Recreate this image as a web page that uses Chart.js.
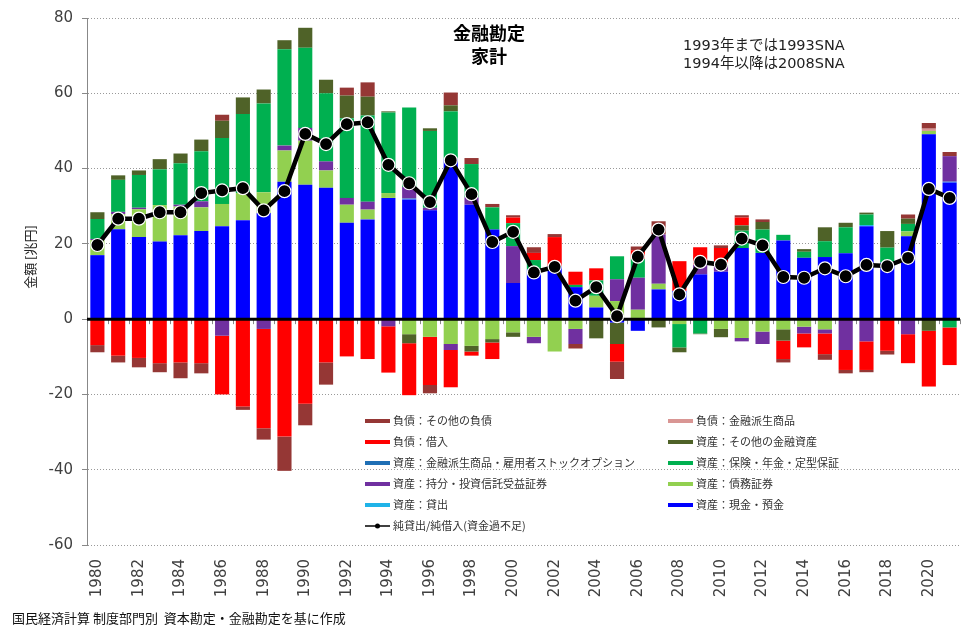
<!DOCTYPE html>
<html>
<head>
<meta charset="utf-8">
<script src="https://cdn.jsdelivr.net/npm/chart.js@4.4.1/dist/chart.umd.min.js"></script>
<style>
  html, body { margin: 0; padding: 0; background: #fff; }
</style>
</head>
<body>
<canvas id="chart" width="977" height="639"></canvas>
<script>
// 金融勘定（家計） 1980-2021, 兆円
const years = ['1980','1981','1982','1983','1984','1985','1986','1987','1988','1989',
  '1990','1991','1992','1993','1994','1995','1996','1997','1998','1999',
  '2000','2001','2002','2003','2004','2005','2006','2007','2008','2009',
  '2010','2011','2012','2013','2014','2015','2016','2017','2018','2019',
  '2020','2021'];

const cash = [17.0,23.9,21.8,20.6,22.3,23.4,24.7,26.3,28.2,36.5,
  35.7,34.9,25.6,26.5,32.2,31.8,28.9,42.6,30.4,23.8,
  9.6,13.2,14.1,8.5,3.1,-0.9,-3.1,7.9,7.5,11.9,
  12.6,18.9,17.6,20.9,16.3,16.5,17.5,24.7,15.0,22.0,
  49.1,36.3];
const loans = [0,0,0,0,0,0,0,0,0,0,
  0,0,0,0,0,0.2,0,0,0,0,
  0,0,0,0,0,0,0,0,0,0,
  0,0,0,0,0,0,0,0.3,0,0,
  0,0.2];
const debtSec = [4.0,4.0,7.4,9.7,7.6,6.3,5.9,7.2,5.5,8.3,
  11.7,4.6,4.8,2.6,1.3,-4.0,-4.7,-6.6,-7.1,-5.3,
  -3.5,-4.7,-8.6,-2.6,3.1,4.8,2.5,1.5,-1.3,0,
  -2.6,-5.0,-3.3,-2.7,-2.0,-2.7,0,0,0,1.3,
  0.9,0];
const equity = [0.3,0.6,0.4,0,0.5,1.6,-4.4,0,-2.6,1.3,
  3.4,2.4,1.8,2.1,-1.9,3.1,0.7,-1.6,2.0,0,
  9.8,-1.7,0,-4.0,0,5.8,8.5,13.1,0,2.6,
  1.9,-0.9,-3.3,0,-1.8,-1.1,-8.2,-5.9,0,-4.0,
  0,6.8];
const insurance = [5.3,8.5,8.7,9.5,11.0,13.3,17.5,21.0,23.6,25.6,
  21.3,18.1,21.2,22.9,21.4,21.1,20.4,12.6,8.8,5.9,
  6.1,2.5,0,0.6,4.1,6.1,5.0,0,-6.2,-3.8,
  0,4.6,6.2,1.5,1.6,4.2,6.9,2.8,4.0,2.0,
  0,-2.2];
const derivAsset = [0,0,0,0,0,0,0,0,0,0,
  0,0,0,0,0,0,0,0,0,0,
  0,0,0,0,0,0,0,0,0,0,
  0,0,0,0,0,0,0,0,0,0,
  0,0];
const otherAsset = [1.8,1.2,1.2,2.7,2.6,3.1,4.6,4.4,3.7,2.4,
  5.3,3.6,6.0,5.0,0.3,-2.4,0.7,1.6,-1.5,-0.9,
  -1.2,0,0,0,-5.1,-5.7,0,-2.2,-1.3,-0.2,
  -2.2,1.4,2.0,-3.0,0.7,3.7,1.2,0.5,4.4,1.4,
  -3.1,0];
const borrowing = [-6.9,-9.7,-10.3,-11.7,-11.5,-11.7,-15.6,-23.2,-26.4,-31.2,
  -22.5,-11.5,-9.9,-10.6,-12.3,-13.8,-12.8,-9.9,-1.1,-4.4,
  1.5,1.9,7.7,3.5,3.2,-4.7,2.3,0,7.9,4.6,
  4.4,2.1,0,-4.9,-3.7,-5.5,-5.3,-7.6,-8.4,-7.7,
  -14.8,-10.0];
const derivLiab = [0,0,0,0,0,0,0,0,0,0,
  0,0,0,0,0,0,0,0,0,0,
  0,0,0,0,0,0,0,0,0,0,
  0,0,0,0,0,0,0,0,0,0,
  0.6,0];
const otherLiab = [-1.9,-1.8,-2.5,-2.4,-4.2,-2.7,1.6,-0.9,-3.0,-9.1,
  -5.7,-5.9,2.1,3.8,0,0,-2.2,3.4,1.6,0.9,
  0.6,1.5,0.8,-1.2,0,-4.6,1.0,3.5,0,0,
  0.7,0.6,0.7,-0.9,0,-1.5,-0.9,-0.6,-1.0,1.1,
  1.5,1.1];
const netLending = [19.7,26.7,26.7,28.4,28.4,33.5,34.2,34.8,28.9,34.0,
  49.2,46.5,51.8,52.3,41.0,36.1,31.1,42.2,33.2,20.5,
  23.2,12.4,13.9,4.9,8.5,0.8,16.6,23.8,6.6,15.2,
  14.5,21.4,19.6,11.2,11.0,13.5,11.4,14.4,14.1,16.3,
  34.6,32.2];

const yTicks = [-60, -40, -20, 0, 20, 40, 60, 80];
const titleLines = ['金融勘定', '家計'];
const noteLines = ['1993年までは1993SNA', '1994年以降は2008SNA'];
const yTitle = '金額 [兆円]';
const source = '国民経済計算 制度部門別  資本勘定・金融勘定を基に作成';

function bar(label, data, color) {
  return { type: 'bar', label: label, data: data, backgroundColor: color,
    borderWidth: 0, stack: 's', order: 1, barPercentage: 0.68, categoryPercentage: 1.0 };
}

const datasets = [
  { type: 'line', label: '純貸出/純借入(資金過不足)', data: netLending, stack: 'net', order: 0,
    borderColor: '#000', borderWidth: 4.5, pointRadius: 6.5, pointBackgroundColor: '#000',
    pointBorderColor: '#fff', pointBorderWidth: 1.2, tension: 0 },
  bar('資産：現金・預金', cash, '#0000FF'),
  bar('資産：貸出', loans, '#1FB3E8'),
  bar('資産：債務証券', debtSec, '#92D050'),
  bar('資産：持分・投資信託受益証券', equity, '#7030A0'),
  bar('資産：保険・年金・定型保証', insurance, '#00B050'),
  bar('資産：金融派生商品・雇用者ストックオプション', derivAsset, '#1F6FB5'),
  bar('資産：その他の金融資産', otherAsset, '#4F6228'),
  bar('負債：借入', borrowing, '#FF0000'),
  bar('負債：金融派生商品', derivLiab, '#D99694'),
  bar('負債：その他の負債', otherLiab, '#953735')
];

// legend rows: [left, right] dataset indices
const legendRows = [[10, 9], [8, 7], [6, 5], [4, 3], [2, 1], [0, null]];

const overlay = {
  id: 'overlay',
  beforeDatasetDraw(chart, args) {
    if (args.index !== 0) return;
    const ctx = chart.ctx, a = chart.chartArea, xs = chart.scales.x;
    const y0 = chart.scales.y.getPixelForValue(0);
    ctx.save();
    // small tick marks on the zero axis between categories
    ctx.strokeStyle = '#888';
    ctx.lineWidth = 1;
    ctx.beginPath();
    for (let i = 0; i <= years.length; i++) {
      const x = Math.round(a.left + i * (a.right - a.left) / years.length) + 0.5;
      ctx.moveTo(x, y0);
      ctx.lineTo(x, y0 + 5);
    }
    ctx.stroke();
    ctx.strokeStyle = '#000';
    ctx.lineWidth = 3;
    ctx.beginPath();
    ctx.moveTo(a.left, y0);
    ctx.lineTo(a.right, y0);
    ctx.stroke();
    ctx.restore();
  },
  afterDraw(chart) {
    const ctx = chart.ctx;
    ctx.save();
    ctx.fillStyle = '#000';
    ctx.textAlign = 'center';
    ctx.textBaseline = 'middle';
    ctx.font = "bold 18px 'Noto Sans CJK JP', sans-serif";
    ctx.fillText(titleLines[0], 489, 33);
    ctx.fillText(titleLines[1], 489, 56);

    ctx.fillStyle = '#222';
    ctx.textAlign = 'left';
    ctx.font = "14.5px 'DejaVu Sans', 'Noto Sans CJK JP', sans-serif";
    ctx.fillText(noteLines[0], 683, 46);
    ctx.fillText(noteLines[1], 683, 64);

    // y axis title
    ctx.save();
    ctx.translate(30, 257);
    ctx.rotate(-Math.PI / 2);
    ctx.textAlign = 'center';
    ctx.font = "13px 'Noto Sans CJK JP', sans-serif";
    ctx.fillStyle = '#222';
    ctx.fillText(yTitle, 0, 0);
    ctx.restore();

    // legend
    ctx.font = "11px 'Noto Sans CJK JP', sans-serif";
    ctx.fillStyle = '#333';
    const cols = [365, 668];
    legendRows.forEach((row, r) => {
      const y = 421 + r * 21;
      row.forEach((idx, c) => {
        if (idx === null) return;
        const ds = chart.data.datasets[idx];
        const x = cols[c];
        if (ds.type === 'line') {
          ctx.strokeStyle = '#000';
          ctx.lineWidth = 1.5;
          ctx.beginPath(); ctx.moveTo(x, y); ctx.lineTo(x + 25, y); ctx.stroke();
          ctx.beginPath(); ctx.arc(x + 12.5, y, 2.5, 0, Math.PI * 2);
          ctx.fillStyle = '#000'; ctx.fill();
        } else {
          ctx.fillStyle = ds.backgroundColor;
          ctx.fillRect(x, y - 2, 25, 4);
        }
        ctx.fillStyle = '#333';
        ctx.fillText(ds.label, x + 28, y);
      });
    });

    // source note
    ctx.font = "13px 'Noto Sans CJK JP', sans-serif";
    ctx.fillStyle = '#111';
    ctx.fillText(source, 12, 618);
    ctx.restore();
  }
};

new Chart(document.getElementById('chart'), {
  data: { labels: years, datasets: datasets },
  options: {
    responsive: false,
    animation: false,
    devicePixelRatio: 1,
    layout: { padding: { left: 0, right: 17, top: 16, bottom: 0 } },
    plugins: { legend: { display: false }, tooltip: { enabled: false } },
    scales: {
      x: {
        stacked: true,
        grid: { display: false },
        border: { display: false },
        afterFit: (s) => { s.height = 94; },
        ticks: {
          autoSkip: false, maxRotation: 90, minRotation: 90, padding: 6,
          color: '#404040', font: { size: 15, family: "'DejaVu Sans', sans-serif" },
          callback: function (v, i) { return i % 2 === 0 ? years[i] : ''; }
        }
      },
      y: {
        stacked: true,
        min: yTicks[0], max: yTicks[yTicks.length - 1],
        afterFit: (s) => { s.width = 87; },
        afterBuildTicks: (s) => { s.ticks = yTicks.map(v => ({ value: v })); },
        grid: { color: '#999', lineWidth: 1, tickLength: 5, tickColor: '#888' },
        border: { display: true, color: '#888', width: 1, dash: [1, 2] },
        ticks: { padding: 9, color: '#404040', font: { size: 15, family: "'DejaVu Sans', sans-serif" } }
      }
    }
  },
  plugins: [overlay]
});
</script>
</body>
</html>
